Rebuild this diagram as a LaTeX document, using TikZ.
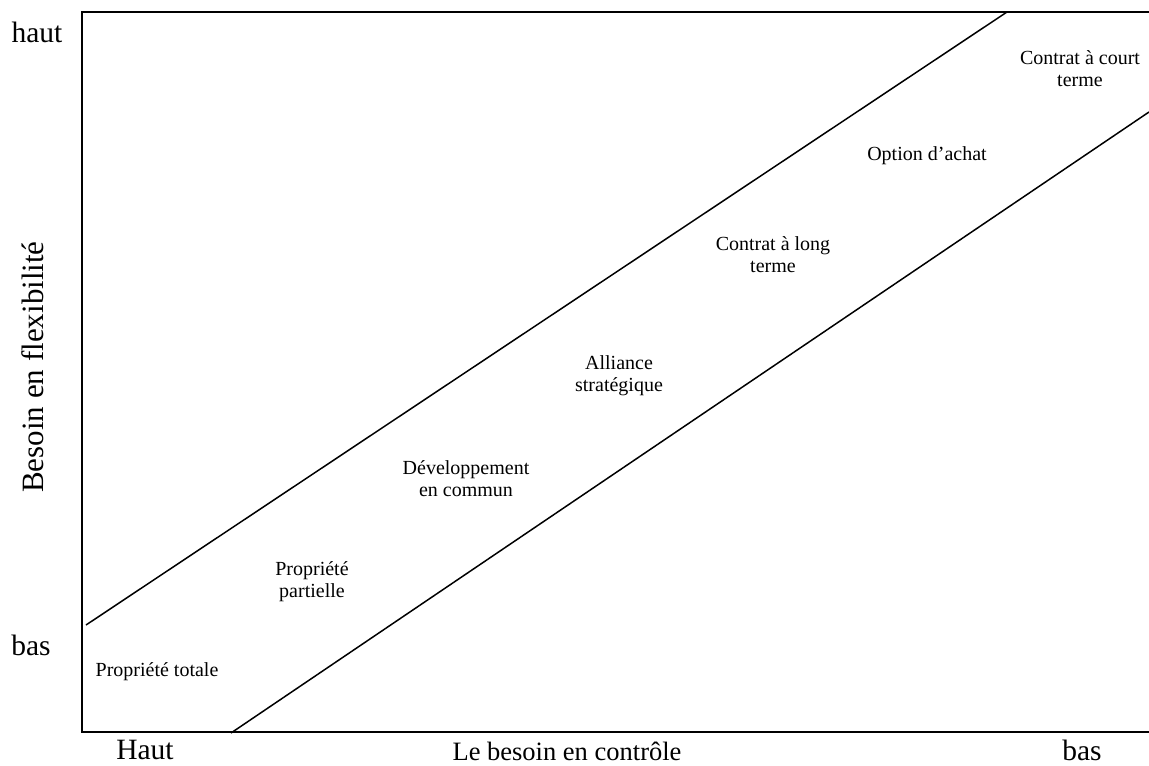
\documentclass[tikz,border=0pt]{standalone}
\usepackage{fontspec}
\setmainfont{Liberation Serif}
\begin{document}
\begin{tikzpicture}[x=1pt,y=-1pt,
  frame/.style={line width=2pt},
  diag/.style={line width=1.5pt},
  axislbl/.style={font=\fontsize{29.5}{31}\selectfont, inner sep=0pt},
  option/.style={font=\fontsize{20}{22}\selectfont, align=center, inner sep=0pt}]
\useasboundingbox (0,0) rectangle (1149,766);
% frame
\coordinate (tr) at (1149,12);
\coordinate (tl) at (82,12);
\coordinate (bl) at (82,732);
\coordinate (br) at (1149,732);
\draw[frame] (tr) -- (tl) -- (bl) -- (br);
% diagonals
\coordinate (u1) at (86,625);
\coordinate (u2) at (1007,12);
\coordinate (l1) at (231,733);
\coordinate (l2) at (1149,112);
\draw[diag] (u1) -- (u2);
\draw[diag] (l1) -- (l2);
% axis labels
\node[axislbl, anchor=base] (haut) at (37,42) {haut};
\node[axislbl, anchor=base] (basl) at (31,655) {bas};
\node[axislbl, font=\fontsize{31}{33}\selectfont, anchor=base, rotate=90] (yax) at (43,367) {Besoin en flexibilité};
\node[axislbl, anchor=base] (hautx) at (145,759) {Haut};
\node[axislbl, font=\fontsize{26.5}{28}\selectfont, anchor=base] (xax) at (567,760) {Le besoin en contrôle};
\node[axislbl, anchor=base] (basr) at (1082,760) {bas};
% options
\node[option, anchor=base] (pt) at (157,676) {Propriété totale};
\node[option] (pp) at (312,582) {Propriété\\partielle};
\node[option] (dc) at (466,479) {Développement\\en commun};
\node[option] (as) at (619,376) {Alliance\\stratégique};
\node[option] (cl) at (773,255) {Contrat à long\\terme};
\node[option, anchor=base] (oa) at (927,160) {Option d’achat};
\node[option] (cc) at (1080,69) {Contrat à court\\terme};
\end{tikzpicture}
\end{document}
